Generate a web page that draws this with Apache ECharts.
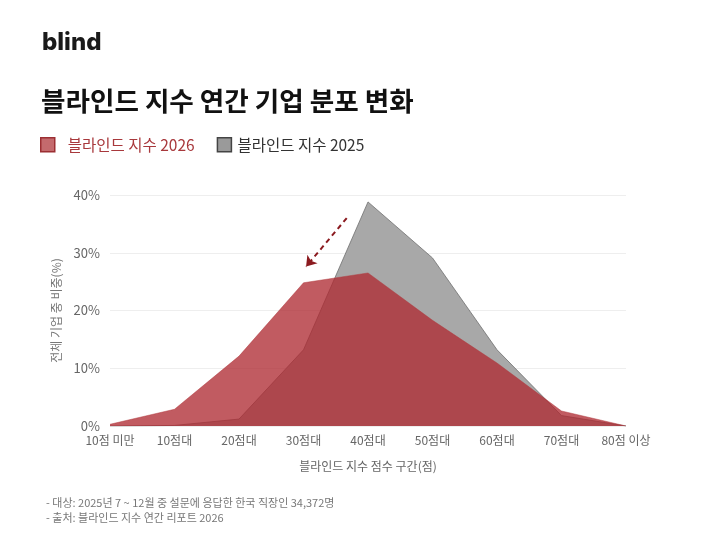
<!DOCTYPE html>
<html>
<head>
<meta charset="utf-8">
<script src="https://cdn.jsdelivr.net/npm/echarts@6/dist/echarts.min.js"></script>
<style>
  html, body { margin: 0; padding: 0; background: #fff; }
  #chart { width: 720px; height: 540px; }
</style>
</head>
<body>
<div id="chart"></div>
<script>
"use strict";

// 점수 구간
var categories = ["10점 미만", "10점대", "20점대", "30점대", "40점대", "50점대", "60점대", "70점대", "80점 이상"];
// 비중(%)
var share2026 = [0.3, 2.9, 12.1, 24.8, 26.5, 18.3, 10.9, 2.6, 0];
var share2025 = [0, 0.1, 1.2, 13.2, 38.8, 29.1, 13.2, 1.8, 0];
var yTicks = [0, 10, 20, 30, 40];
// 화살표 (구간 위치, %)
var arrowFrom = [3.67, 36];
var arrowTo = [3.04, 27.6];

var fontKR = "'Noto Sans CJK KR', 'Noto Sans', sans-serif";

var myChart = echarts.init(document.getElementById("chart"));
var option = {
  backgroundColor: "#fff",
  textStyle: { fontFamily: fontKR },
  title: [
    {
      text: "blind",
      left: 37,
      top: 26,
      textStyle: { fontFamily: "Inter, 'Noto Sans', sans-serif", fontSize: 24, fontWeight: 800, color: "#1a1a1a" }
    },
    {
      text: "블라인드 지수 연간 기업 분포 변화",
      left: 36,
      top: 83,
      textStyle: { fontFamily: fontKR, fontSize: 26.6, fontWeight: "bold", color: "#111" }
    },
    {
      text: "- 대상: 2025년 7 ~ 12월 중 설문에 응답한 한국 직장인 34,372명\n- 출처: 블라인드 지수 연간 리포트 2026",
      left: 41,
      top: 490,
      textStyle: { fontFamily: fontKR, fontSize: 11, fontWeight: "normal", color: "#777", lineHeight: 15 }
    }
  ],
  legend: {
    left: 35,
    top: 132,
    itemWidth: 14,
    itemHeight: 14,
    itemGap: 22,
    icon: "rect",
    textStyle: { fontFamily: fontKR, fontSize: 15.5 },
    data: [
      {
        name: "블라인드 지수 2026",
        itemStyle: { color: "#c46a6d", borderColor: "#9c2f33", borderWidth: 1.5, opacity: 1 },
        textStyle: { color: "#a8383c", padding: [0, 0, 0, 8] }
      },
      {
        name: "블라인드 지수 2025",
        itemStyle: { color: "#9a9a9a", borderColor: "#444", borderWidth: 1.5, opacity: 1 },
        textStyle: { color: "#333", padding: [0, 0, 0, 1] }
      }
    ]
  },
  grid: { left: 110, right: 94, top: 195, bottom: 114 },
  xAxis: [
    {
      type: "category",
      boundaryGap: false,
      data: categories,
      name: "블라인드 지수 점수 구간(점)",
      nameLocation: "middle",
      nameGap: 34,
      nameTextStyle: { fontFamily: fontKR, fontSize: 12, color: "#666" },
      axisLine: { show: false },
      axisTick: { show: false },
      axisLabel: { fontFamily: fontKR, fontSize: 12, color: "#666", margin: 8 }
    },
    {
      // 화살표 위치용 숨은 축
      type: "value",
      min: 0,
      max: categories.length - 1,
      show: false
    }
  ],
  yAxis: {
    type: "value",
    min: yTicks[0],
    max: yTicks[yTicks.length - 1],
    interval: 10,
    name: "전체 기업 중 비중(%)",
    nameLocation: "middle",
    nameRotate: 90,
    nameGap: 46,
    nameTextStyle: { fontFamily: fontKR, fontSize: 12, color: "#777" },
    axisLine: { show: false },
    axisTick: { show: false },
    axisLabel: { fontFamily: fontKR, fontSize: 13, color: "#666", margin: 10, formatter: "{value}%" },
    splitLine: { lineStyle: { color: "#eeeeee", width: 1 } }
  },
  series: [
    {
      name: "블라인드 지수 2025",
      type: "line",
      data: share2025,
      symbol: "none",
      z: 2,
      lineStyle: { color: "#6f6f6f", width: 0.8 },
      itemStyle: { color: "#a8a8a8" },
      areaStyle: { color: "#a8a8a8", opacity: 1 }
    },
    {
      name: "블라인드 지수 2026",
      type: "line",
      data: share2026,
      symbol: "none",
      z: 3,
      lineStyle: { color: "#b03a3f", width: 0.8, opacity: 0.6 },
      itemStyle: { color: "#b2343a" },
      areaStyle: { color: "#ae2a32", opacity: 0.77 }
    },
    {
      name: "arrow",
      type: "line",
      xAxisIndex: 1,
      data: [],
      z: 4,
      markLine: {
        silent: true,
        symbol: ["none", "arrow"],
        symbolSize: 10,
        lineStyle: { color: "#8b1a1f", type: [5, 4], width: 2 },
        label: { show: false },
        data: [[{ coord: arrowFrom }, { coord: arrowTo }]]
      }
    }
  ]
};

option && myChart.setOption(option);
</script>
</body>
</html>
